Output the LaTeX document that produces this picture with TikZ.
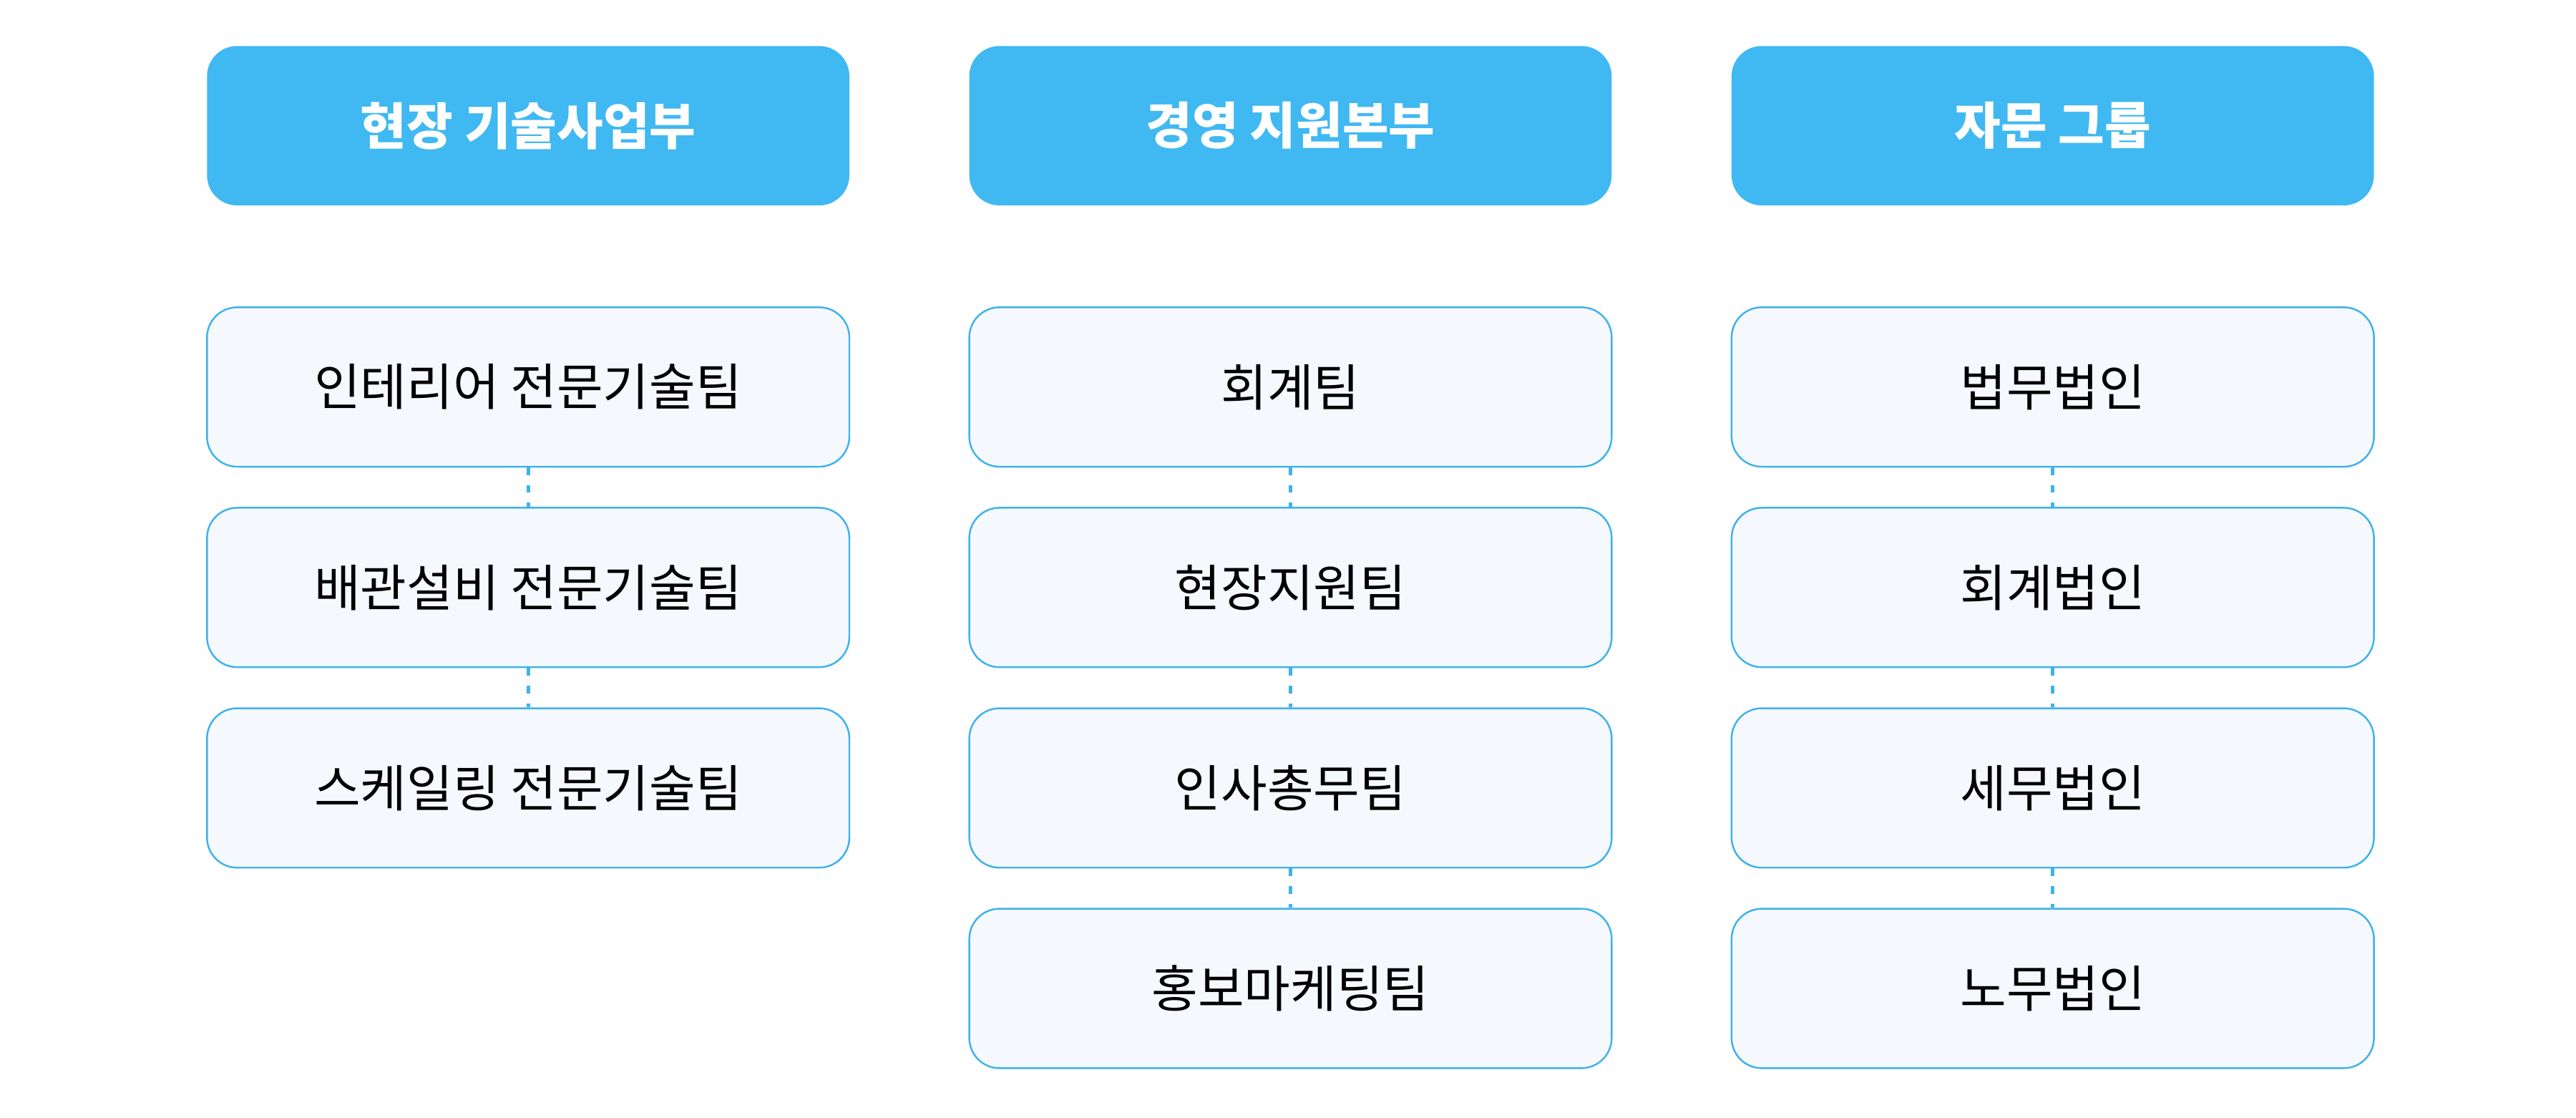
\documentclass[tikz,border=0pt]{standalone}
\usepackage{fontspec}
\setmainfont{Noto Sans CJK KR}
\usetikzlibrary{positioning}
\definecolor{headblue}{HTML}{40B8F2}
\definecolor{lineblue}{HTML}{3FB2EC}
\definecolor{boxfill}{HTML}{F5F9FE}
\tikzset{
  headbox/.style={rectangle,rounded corners=12pt,fill=headblue,text=white,font=\fontsize{20}{24}\selectfont\bfseries,minimum width=391*0.02296cm,minimum height=97*0.02296cm},
  teambox/.style={rectangle,rounded corners=12pt,draw=lineblue,line width=0.7pt,fill=boxfill,font=\fontsize{20}{24}\selectfont,minimum width=391*0.02296cm,minimum height=97*0.02296cm},
  link/.style={draw=lineblue,line width=1.4pt,dash pattern=on 3pt off 4pt}
}
\begin{document}
\begin{tikzpicture}[x=0.02296cm,y=-0.02296cm]
			\useasboundingbox (0,0) rectangle (1568,680);
			% headers
			\node[headbox] (h1) at (321.5,76.5) {현장 기술사업부};
			\node[headbox] (h2) at (785.5,76.5) {경영 지원본부};
			\node[headbox] (h3) at (1249.5,76.5) {자문 그룹};
			% first column
			\node[teambox] (a1) at (321.5,235.5) {인테리어 전문기술팀};
			\node[teambox] (a2) at (321.5,357.5) {배관설비 전문기술팀};
			\node[teambox] (a3) at (321.5,479.5) {스케일링 전문기술팀};
			% second column
			\node[teambox] (b1) at (785.5,235.5) {회계팀};
			\node[teambox] (b2) at (785.5,357.5) {현장지원팀};
			\node[teambox] (b3) at (785.5,479.5) {인사총무팀};
			\node[teambox] (b4) at (785.5,601.5) {홍보마케팅팀};
			% third column
			\node[teambox] (c1) at (1249.5,235.5) {법무법인};
			\node[teambox] (c2) at (1249.5,357.5) {회계법인};
			\node[teambox] (c3) at (1249.5,479.5) {세무법인};
			\node[teambox] (c4) at (1249.5,601.5) {노무법인};
			% links
			\foreach \u/\v in {a1/a2,a2/a3,b1/b2,b2/b3,b3/b4,c1/c2,c2/c3,c3/c4}
				\draw[link] (\u.south) -- (\v.north);
		\end{tikzpicture}
\end{document}
